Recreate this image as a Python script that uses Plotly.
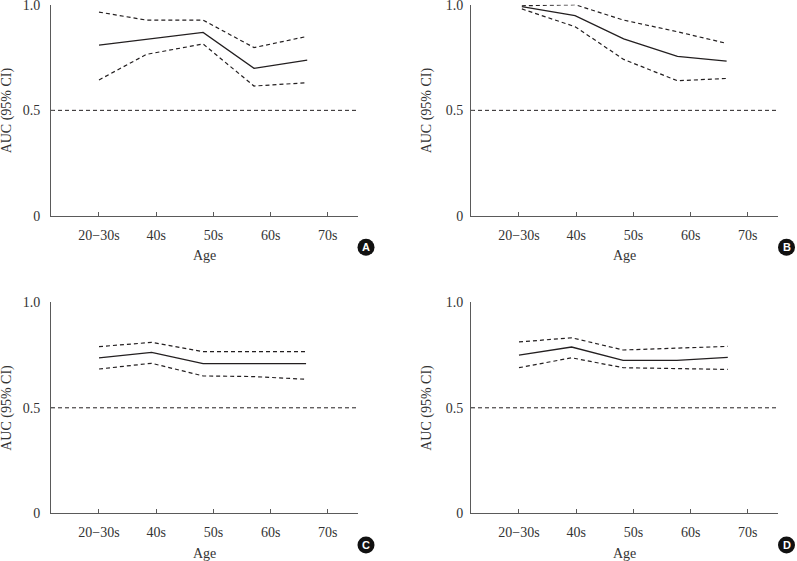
import plotly.graph_objects as go
from plotly.subplots import make_subplots

# ---- data (x positions in category units: 0=20-30s ... 4=70s) ----
tick_labels = ["20\u221230s", "40s", "50s", "60s", "70s"]
tick_pos = [0, 1, 2, 3, 4]

a_x = [0, 0.83, 1.82, 2.71, 3.64]
a_auc = [0.809, 0.837, 0.869, 0.699, 0.738]
a_upper = [0.965, 0.927, 0.927, 0.797, 0.850]
a_lower = [0.644, 0.765, 0.814, 0.615, 0.631]

b_x = [0.05, 0.98, 1.83, 2.77, 3.63]
b_auc = [0.991, 0.948, 0.838, 0.755, 0.733]
b_upper = [0.995, 1.0, 0.927, 0.872, 0.817]
b_lower = [0.980, 0.896, 0.741, 0.640, 0.651]

c_x = [0, 0.92, 1.82, 2.71, 3.62]
c_auc = [0.737, 0.763, 0.709, 0.709, 0.709]
c_upper = [0.790, 0.810, 0.766, 0.766, 0.766]
c_lower = [0.684, 0.711, 0.651, 0.648, 0.635]

d_x = [0, 0.92, 1.82, 2.76, 3.65]
d_auc = [0.750, 0.788, 0.725, 0.725, 0.739]
d_upper = [0.812, 0.832, 0.774, 0.783, 0.791]
d_lower = [0.690, 0.737, 0.690, 0.687, 0.682]

panel_letters = ["A", "B", "C", "D"]
ref_value = 0.5

panels = [
    (a_x, a_auc, a_upper, a_lower),
    (b_x, b_auc, b_upper, b_lower),
    (c_x, c_auc, c_upper, c_lower),
    (d_x, d_auc, d_upper, d_lower),
]

W, H = 797, 561
LINE = "#231f20"
AXIS = "#5a5a5a"
TEXT = "#333333"
SERIF = "Liberation Serif, Times New Roman, serif"
FS = 14

fig = make_subplots(rows=2, cols=2)

xdom = [[51 / W, 358 / W], [471 / W, 778 / W]]
ydom = [[1 - 216 / H, 1 - 4.7 / H], [1 - 513.3 / H, 1 - 302.3 / H]]
xrange_ = [-0.839, 4.528]

for i, (xs, mid, up, lo) in enumerate(panels):
    r, c = i // 2 + 1, i % 2 + 1
    for ys, dash, w in [(up, "4px,3px", 1.2), (lo, "4px,3px", 1.2), (mid, "solid", 1.3)]:
        fig.add_trace(go.Scatter(x=xs, y=ys, mode="lines",
                                 line=dict(color=LINE, width=w, dash=dash),
                                 showlegend=False, hoverinfo="skip", cliponaxis=False),
                      row=r, col=c)
    # reference line at 0.5
    fig.add_trace(go.Scatter(x=[xrange_[0], xrange_[1]], y=[ref_value, ref_value], mode="lines",
                             line=dict(color=LINE, width=1, dash="4px,3px"),
                             showlegend=False, hoverinfo="skip", cliponaxis=False),
                  row=r, col=c)
    fig.update_xaxes(row=r, col=c, domain=xdom[c - 1], range=xrange_, automargin=False,
                     tickmode="array", tickvals=tick_pos, ticktext=tick_labels,
                     ticks="inside", ticklen=4, tickcolor=AXIS, tickwidth=1,
                     showline=True, linecolor=AXIS, linewidth=1, showgrid=False,
                     zeroline=False, tickfont=dict(family=SERIF, size=FS, color=TEXT),
                     ticklabelstandoff=6, ticklabeloverflow="allow")
    fig.update_yaxes(row=r, col=c, domain=ydom[r - 1], range=[0, 1], automargin=False,
                     tickmode="array", tickvals=[0, 0.5, 1.0], ticktext=["0", "0.5", "1.0"],
                     ticks="inside", ticklen=3, tickcolor=AXIS, tickwidth=1,
                     showline=True, linecolor=AXIS, linewidth=1, showgrid=False,
                     zeroline=False, tickfont=dict(family=SERIF, size=FS, color=TEXT),
                     ticklabelstandoff=7 if c == 1 else 4, ticklabeloverflow="allow")

    # axis titles as annotations
    xc = (xdom[c - 1][0] + xdom[c - 1][1]) / 2
    ybot = 256 if r == 1 else 553
    fig.add_annotation(x=xc, y=1 - ybot / H, xref="paper", yref="paper",
                       text="Age", showarrow=False,
                       font=dict(family=SERIF, size=FS, color=TEXT),
                       xanchor="center", yanchor="middle")
    ytitle_x = 7 if c == 1 else 427
    yc = (ydom[r - 1][0] + ydom[r - 1][1]) / 2
    fig.add_annotation(x=ytitle_x / W, y=yc, xref="paper", yref="paper",
                       text="AUC (95% CI)", showarrow=False, textangle=-90,
                       font=dict(family=SERIF, size=FS, color=TEXT),
                       xanchor="center", yanchor="middle")

    # panel letter badge
    cx = 366 if c == 1 else 786.5
    cy = 247.3 if r == 1 else 545
    fig.add_shape(type="circle", xref="paper", yref="paper",
                  xsizemode="pixel", ysizemode="pixel",
                  xanchor=cx / W, yanchor=1 - cy / H,
                  x0=-8.5, x1=8.5, y0=-8.5, y1=8.5,
                  fillcolor="#111111", line=dict(width=0))
    fig.add_annotation(x=cx / W, y=1 - cy / H, xref="paper", yref="paper",
                       text="<b>" + panel_letters[i] + "</b>", showarrow=False,
                       font=dict(family="Liberation Sans, Arial, sans-serif", size=11, color="white"),
                       xanchor="center", yanchor="middle")

fig.update_layout(width=W, height=H, margin=dict(l=0, r=0, t=0, b=0),
                  plot_bgcolor="white", paper_bgcolor="white")

fig.write_html("out.html", config={"displayModeBar": False},
               post_script="document.body.style.margin='0';document.body.style.overflow='hidden';")
